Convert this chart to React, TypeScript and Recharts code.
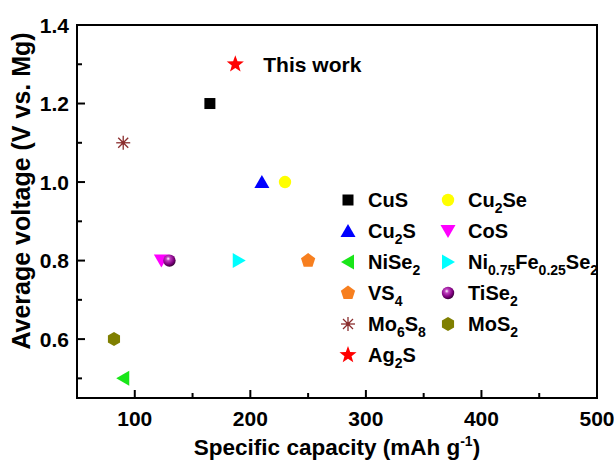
import { ScatterChart, Scatter, XAxis, YAxis } from "recharts"

const FONT = "'Liberation Sans', Arial, sans-serif"

// materials (capacity in mAh/g, voltage in V vs. Mg)
const materials = ["CuS", "Cu2Se", "Cu2S", "CoS", "NiSe2", "Ni0.75Fe0.25Se2", "VS4", "TiSe2", "Mo6S8", "MoS2", "Ag2S"]
const capacity = [165, 230, 210, 123, 90, 190, 250, 130, 90, 82, 187]
const voltage = [1.2, 1.0, 1.0, 0.8, 0.5, 0.8, 0.8, 0.8, 1.1, 0.6, 1.3]
const notes = ["", "", "", "", "", "", "", "", "", "", "This work"]

const xTicks = [100, 150, 200, 250, 300, 350, 400, 450, 500]
const yTicks = [0.5, 0.6, 0.7, 0.8, 0.9, 1.0, 1.1, 1.2, 1.3, 1.4]

const colors = ["#000000", "#ffff00", "#0000ff", "#ff00ff", "#19e619", "#00ffff", "#f77f1f", "#800080", "#8b2e2e", "#7f7f00", "#ff0000"]
const markers = ["square", "circle", "triangleUp", "triangleDown", "triangleLeft", "triangleRight", "pentagon", "sphere", "asterisk", "hexagon", "star"]

const W = 614
const H = 462
const MARGIN = { top: 25, right: 17, bottom: 0, left: 0 }
const Y_AXIS_W = 77
const X_AXIS_H = 64

function polyPoints(n: number, r: number, cx: number, cy: number, start = -90, inner = 0) {
    const pts: string[] = []
    const count = inner ? n * 2 : n
    for (let i = 0; i < count; i++) {
        const rad = inner && i % 2 === 1 ? inner : r
        const a = ((start + (360 / count) * i) * Math.PI) / 180
        pts.push(`${cx + rad * Math.cos(a)},${cy + rad * Math.sin(a)}`)
    }
    return pts.join(" ")
}

function Marker({ kind, cx, cy, color, id }: { kind: string; cx: number; cy: number; color: string; id: string }) {
    switch (kind) {
        case "square":
            return <rect x={cx - 5.5} y={cy - 5.5} width={11} height={11} fill={color} />
        case "circle":
            return <circle cx={cx} cy={cy} r={6.2} fill={color} />
        case "triangleUp":
            return <polygon points={`${cx},${cy - 7} ${cx + 7.5},${cy + 6} ${cx - 7.5},${cy + 6}`} fill={color} />
        case "triangleDown":
            return <polygon points={`${cx},${cy + 7} ${cx + 7.5},${cy - 6} ${cx - 7.5},${cy - 6}`} fill={color} />
        case "triangleLeft":
            return <polygon points={`${cx - 7},${cy} ${cx + 6},${cy - 7.5} ${cx + 6},${cy + 7.5}`} fill={color} />
        case "triangleRight":
            return <polygon points={`${cx + 7},${cy} ${cx - 6},${cy - 7.5} ${cx - 6},${cy + 7.5}`} fill={color} />
        case "pentagon":
            return <polygon points={polyPoints(5, 7.5, cx, cy)} fill={color} />
        case "hexagon":
            return <polygon points={polyPoints(6, 7, cx, cy)} fill={color} />
        case "star":
            return <polygon points={polyPoints(5, 9, cx, cy, -90, 3.7)} fill={color} />
        case "sphere":
            return (
                <g>
                    <defs>
                        <radialGradient id={id} cx="40%" cy="35%" r="65%">
                            <stop offset="0%" stopColor="#ffffff" />
                            <stop offset="25%" stopColor="#c040c0" />
                            <stop offset="70%" stopColor={color} />
                            <stop offset="100%" stopColor="#3a003a" />
                        </radialGradient>
                    </defs>
                    <circle cx={cx} cy={cy} r={6.2} fill={`url(#${id})`} />
                </g>
            )
        case "asterisk":
            return (
                <g stroke={color} strokeWidth={1.3}>
                    <line x1={cx - 7} y1={cy} x2={cx + 7} y2={cy} />
                    <line x1={cx} y1={cy - 7} x2={cx} y2={cy + 7} />
                    <line x1={cx - 5} y1={cy - 5} x2={cx + 5} y2={cy + 5} />
                    <line x1={cx - 5} y1={cy + 5} x2={cx + 5} y2={cy - 5} />
                    <circle cx={cx} cy={cy} r={1.3} fill={color} />
                </g>
            )
        default:
            return null
    }
}

function XTick({ x, y, payload }: any) {
    const major = payload.value % 100 === 0
    return (
        <g>
            <line x1={x} y1={y} x2={x} y2={y - (major ? 8 : 5)} stroke="#000" strokeWidth={2} />
            {major && (
                <text x={x} y={y + 28} textAnchor="middle" fontFamily={FONT} fontWeight="bold" fontSize={21} fill="#000">
                    {payload.value}
                </text>
            )}
        </g>
    )
}

function YTick({ x, y, payload }: any) {
    const major = Math.round(payload.value * 10) % 2 === 0
    return (
        <g>
            <line x1={x} y1={y} x2={x + (major ? 8 : 5)} y2={y} stroke="#000" strokeWidth={2} />
            {major && (
                <text x={x - 8} y={y + 7.5} textAnchor="end" fontFamily={FONT} fontWeight="bold" fontSize={21} fill="#000">
                    {payload.value.toFixed(1)}
                </text>
            )}
        </g>
    )
}

function XTitle({ viewBox }: any) {
    return (
        <text x={viewBox.x + viewBox.width / 2} y={455} textAnchor="middle" fontFamily={FONT} fontWeight="bold" fontSize={22.5} fill="#000">
            Specific capacity (mAh g
            <tspan dy={-9} fontSize={14}>-1</tspan>
            <tspan dy={9}>)</tspan>
        </text>
    )
}

function YTitle() {
    return (
        <text transform="translate(30, 191) rotate(-90)" textAnchor="middle" fontFamily={FONT} fontWeight="bold" fontSize={25} fill="#000">
            Average voltage (V vs. Mg)
        </text>
    )
}

function Formula({ name }: { name: string }) {
    const parts = name.split(/(\d+(?:\.\d+)?)/).filter(Boolean)
    return (
        <span style={{ lineHeight: 1 }}>
            {parts.map((p, i) =>
                /^\d/.test(p) ? (
                    <span key={i} style={{ fontSize: 14, position: "relative", top: 6 }}>{p}</span>
                ) : (
                    <span key={i}>{p}</span>
                )
            )}
        </span>
    )
}

const frame = { stroke: "#000", strokeWidth: 2 }

export default function App() {
    const plotLeft = MARGIN.left + Y_AXIS_W
    const plotRight = W - MARGIN.right
    const plotTop = MARGIN.top
    const plotBottom = H - MARGIN.bottom - X_AXIS_H
    return (
        <div style={{ position: "absolute", left: 0, top: 0, width: W, height: H, background: "#fff" }}>
            <ScatterChart width={W} height={H} margin={MARGIN}>
                <XAxis
                    type="number"
                    dataKey="x"
                    domain={[50, 500]}
                    ticks={xTicks}
                    interval={0}
                    height={X_AXIS_H}
                    tickSize={0}
                    tickMargin={0}
                    tickLine={false}
                    axisLine={frame}
                    tick={(p: any) => <XTick {...p} />}
                    allowDataOverflow
                    label={{ content: (p: any) => <XTitle {...p} /> }}
                />
                <YAxis
                    type="number"
                    dataKey="y"
                    domain={[0.45, 1.4]}
                    ticks={yTicks}
                    interval={0}
                    width={Y_AXIS_W}
                    tickSize={0}
                    tickMargin={0}
                    tickLine={false}
                    axisLine={frame}
                    tick={(p: any) => <YTick {...p} />}
                    allowDataOverflow
                    label={{ content: () => <YTitle /> }}
                />
                {materials.map((m, i) => (
                    <Scatter
                        key={m}
                        name={m}
                        data={[{ x: capacity[i], y: voltage[i], note: notes[i] }]}
                        isAnimationActive={false}
                        shape={(p: any) => (
                            <g>
                                <Marker kind={markers[i]} cx={p.cx} cy={p.cy} color={colors[i]} id={`pt-grad-${i}`} />
                                {p.payload?.note ? (
                                    <text x={p.cx + 28} y={p.cy + 8} fontFamily={FONT} fontWeight="bold" fontSize={21} fill="#000">
                                        {p.payload.note}
                                    </text>
                                ) : null}
                            </g>
                        )}
                    />
                ))}
            </ScatterChart>
            {/* plot frame */}
            <svg
                width={W}
                height={H}
                style={{ position: "absolute", left: 0, top: 0, pointerEvents: "none" }}
            >
                <rect
                    x={plotLeft}
                    y={plotTop}
                    width={plotRight - plotLeft}
                    height={plotBottom - plotTop}
                    fill="none"
                    stroke="#000"
                    strokeWidth={2}
                />
            </svg>
            <div
                style={{
                    position: "absolute",
                    left: 338,
                    top: 184,
                    display: "grid",
                    gridTemplateColumns: "100px auto",
                    gridAutoRows: "31px",
                    fontFamily: FONT,
                    fontWeight: "bold",
                    fontSize: 20,
                    color: "#000",
                }}
            >
                {materials.map((m, i) => (
                    <div key={m} style={{ display: "flex", alignItems: "center", height: 31 }}>
                        <svg width={20} height={20} style={{ marginRight: 10, flex: "none" }}>
                            <Marker kind={markers[i]} cx={10} cy={10} color={colors[i]} id={`lg-grad-${i}`} />
                        </svg>
                        <Formula name={m} />
                    </div>
                ))}
            </div>
        </div>
    )
}
